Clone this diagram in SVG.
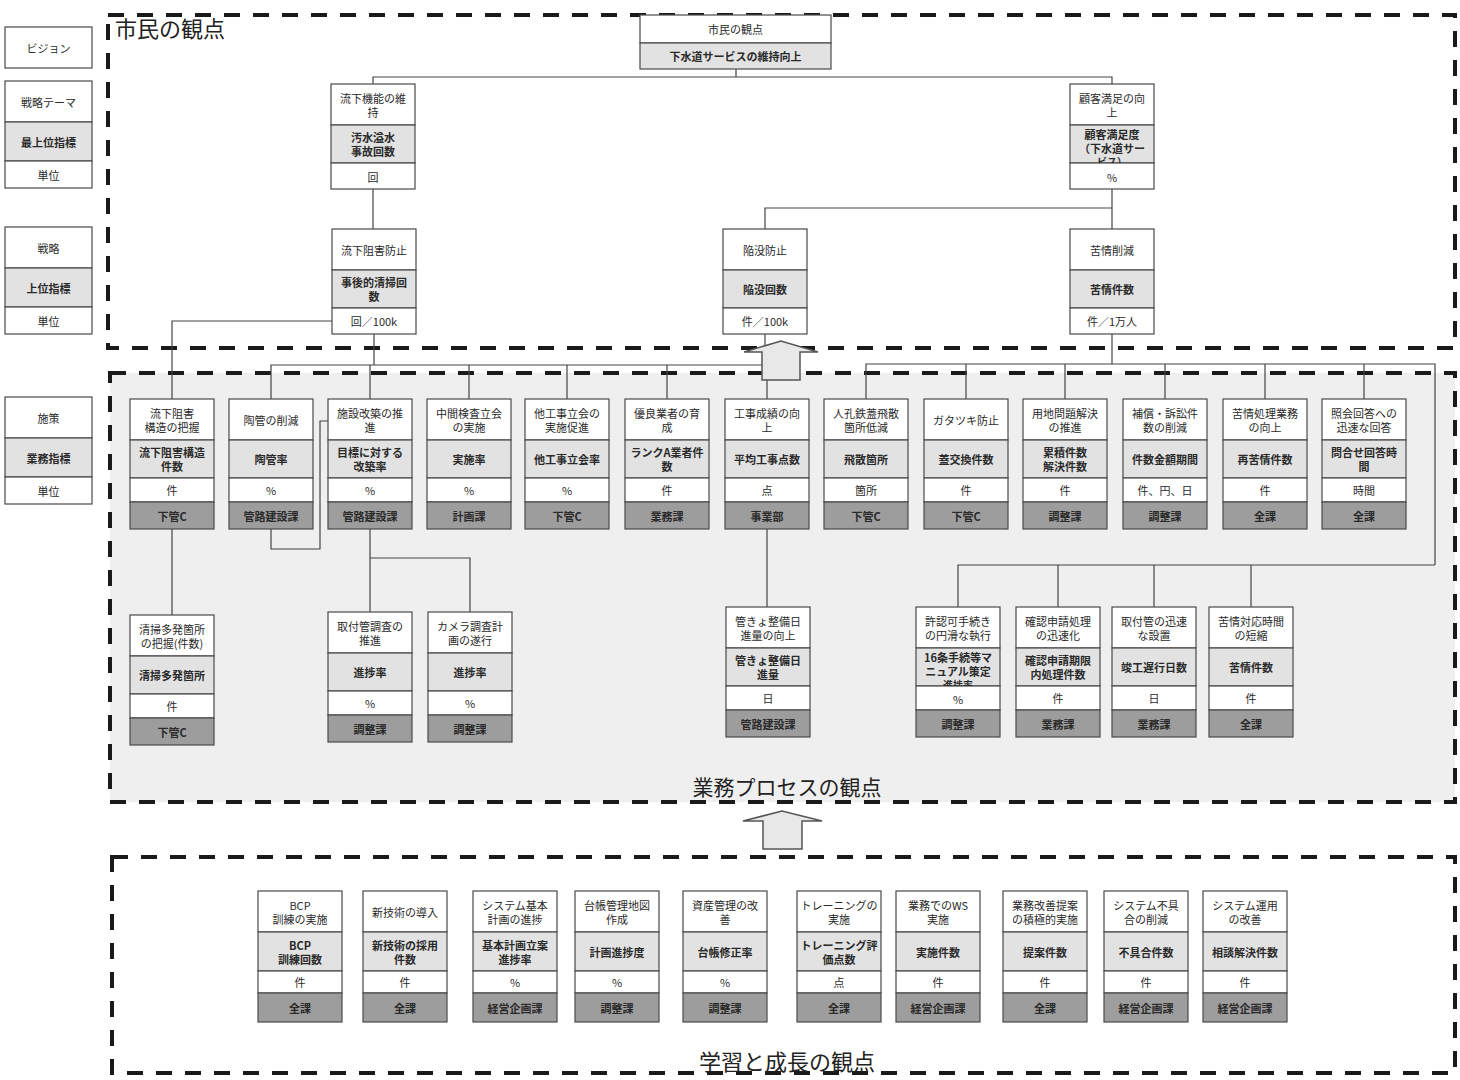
<svg xmlns="http://www.w3.org/2000/svg" width="1460" height="1080" viewBox="0 0 1460 1080">
<style>
text{font-family:'Noto Sans CJK JP','Noto Sans CJK SC',sans-serif;font-size:11px;fill:#2a2a2a;text-anchor:middle;dominant-baseline:central}
.b{font-weight:700}
.cut{font-size:10px}
.w{fill:#fff;stroke:#4a4a4a;stroke-width:1.2}
.g{fill:#e2e2e2;stroke:#4a4a4a;stroke-width:1.2}
.d{fill:#9d9d9d;stroke:#4a4a4a;stroke-width:1.2}
.dash{fill:none;stroke:#1a1a1a;stroke-width:4;stroke-dasharray:16 13}
.cn path{fill:none;stroke:#444;stroke-width:1.2}
.arr{fill:#e8e8e8;stroke:#555;stroke-width:1.5}
.lbl{font-size:21px;fill:#222}
</style>
<defs>
<g id="tA"><rect class="w" width="84" height="41"/><rect class="g" y="41" width="84" height="38"/><rect class="w" y="79" width="84" height="24"/><rect class="d" y="103" width="84" height="27"/></g>
<g id="tB"><rect class="w" width="84" height="41"/><rect class="g" y="41" width="84" height="39"/><rect class="w" y="80" width="84" height="22"/><rect class="d" y="102" width="84" height="29"/></g>
<g id="tC"><rect class="w" width="84" height="41"/><rect class="g" y="41" width="84" height="38"/><rect class="w" y="79" width="84" height="26"/></g>
<g id="tL"><rect class="w" width="87" height="41"/><rect class="g" y="41" width="87" height="39"/><rect class="w" y="80" width="87" height="27"/></g>
<clipPath id="clipInd"><rect y="41" width="84" height="38"/></clipPath>
</defs>

<!-- regions -->
<g id="regions">
<rect x="110" y="373" width="1345" height="429" fill="#efefef"/>
<rect class="dash" x="108" y="15" width="1347" height="333"/>
<rect class="dash" x="110" y="373" width="1345" height="429"/>
<rect class="dash" x="112" y="857" width="1343" height="216"/>
</g>

<!-- legend -->
<g id="legend-vision"><rect class="w" x="5" y="27" width="87" height="41"/><text x="48.5" y="47.5">ビジョン</text></g>
<g id="legend-theme" transform="translate(5,81)"><use href="#tL"/><text x="43.5" y="20.5">戦略テーマ</text><text class="b" x="43.5" y="60.5">最上位指標</text><text x="43.5" y="93.5">単位</text></g>
<g id="legend-strategy" transform="translate(5,227)"><use href="#tL"/><text x="43.5" y="20.5">戦略</text><text class="b" x="43.5" y="60.5">上位指標</text><text x="43.5" y="93.5">単位</text></g>
<g id="legend-measure" transform="translate(5,397)"><use href="#tL"/><text x="43.5" y="20.5">施策</text><text class="b" x="43.5" y="60.5">業務指標</text><text x="43.5" y="93.5">単位</text></g>

<!-- connectors -->
<g id="connectors" class="cn">
<path d="M736,69V77M373,84V77H1112V84"/>
<path d="M373,189V229"/>
<path d="M1112,189V229M765,229V208H1112"/>
<path d="M332,321H172V399"/>
<path d="M374,334V365M271,399V365H767V399M370,365V399M469,365V399M567,365V399M667,365V399"/>
<path d="M765,334V365"/>
<path d="M1112,334V364M866,399V364H1435V565M966,364V399M1065,364V399M1165,364V399M1265,364V399M1364,364V399"/>
<path d="M958,607V565H1435M1058,565V607M1154,565V607M1251,565V607"/>
<path d="M271,529V549H320V421H328"/>
<path d="M172,529V615"/>
<path d="M370,529V612M370,558H470V612"/>
<path d="M767,529V607"/>
</g>

<!-- top node -->
<g id="vision" transform="translate(640,15)">
<rect class="w" width="191" height="28"/><rect class="g" y="28" width="191" height="26"/>
<text x="95.5" y="14">市民の観点</text><text class="b" x="95.5" y="41">下水道サービスの維持向上</text>
</g>

<!-- strategic themes -->
<g id="theme-1" transform="translate(331,84)"><use href="#tC"/><text x="42" y="13.5">流下機能の維</text><text x="42" y="27.5">持</text><text class="b" x="42" y="53">汚水溢水</text><text class="b" x="42" y="67">事故回数</text><text x="42" y="93">回</text></g>
<g id="theme-2" transform="translate(1070,84)"><use href="#tC"/><text x="42" y="13.5">顧客満足の向</text><text x="42" y="27.5">上</text><g clip-path="url(#clipInd)"><text class="b" x="42" y="49.5">顧客満足度</text><text class="b" x="42" y="63.5">（下水道サー</text><text class="b cut" x="42" y="77">ビス）</text></g><text x="42" y="93">%</text></g>

<!-- strategies -->
<g id="strategy-1" transform="translate(332,229)"><use href="#tC"/><text x="42" y="20.5">流下阻害防止</text><text class="b" x="42" y="53">事後的清掃回</text><text class="b" x="42" y="67">数</text><text x="42" y="92">回／100k</text></g>
<g id="strategy-2" transform="translate(723,229)"><use href="#tC"/><text x="42" y="20.5">陥没防止</text><text class="b" x="42" y="60">陥没回数</text><text x="42" y="92">件／100k</text></g>
<g id="strategy-3" transform="translate(1070,229)"><use href="#tC"/><text x="42" y="20.5">苦情削減</text><text class="b" x="42" y="60">苦情件数</text><text x="42" y="92">件／1万人</text></g>

<!-- measures -->
<g id="m1" transform="translate(130,399)"><use href="#tA"/><text x="42" y="13.5">流下阻害</text><text x="42" y="27.5">構造の把握</text><text class="b" x="42" y="53">流下阻害構造</text><text class="b" x="42" y="67">件数</text><text x="42" y="91">件</text><text class="b" x="42" y="116.5">下管C</text></g>
<g id="m2" transform="translate(229,399)"><use href="#tA"/><text x="42" y="20.5">陶管の削減</text><text class="b" x="42" y="60">陶管率</text><text x="42" y="91">%</text><text class="b" x="42" y="116.5">管路建設課</text></g>
<g id="m3" transform="translate(328,399)"><use href="#tA"/><text x="42" y="13.5">施設改築の推</text><text x="42" y="27.5">進</text><text class="b" x="42" y="53">目標に対する</text><text class="b" x="42" y="67">改築率</text><text x="42" y="91">%</text><text class="b" x="42" y="116.5">管路建設課</text></g>
<g id="m4" transform="translate(427,399)"><use href="#tA"/><text x="42" y="13.5">中間検査立会</text><text x="42" y="27.5">の実施</text><text class="b" x="42" y="60">実施率</text><text x="42" y="91">%</text><text class="b" x="42" y="116.5">計画課</text></g>
<g id="m5" transform="translate(525,399)"><use href="#tA"/><text x="42" y="13.5">他工事立会の</text><text x="42" y="27.5">実施促進</text><text class="b" x="42" y="60">他工事立会率</text><text x="42" y="91">%</text><text class="b" x="42" y="116.5">下管C</text></g>
<g id="m6" transform="translate(625,399)"><use href="#tA"/><text x="42" y="13.5">優良業者の育</text><text x="42" y="27.5">成</text><text class="b" x="42" y="53">ランクA業者件</text><text class="b" x="42" y="67">数</text><text x="42" y="91">件</text><text class="b" x="42" y="116.5">業務課</text></g>
<g id="m7" transform="translate(725,399)"><use href="#tA"/><text x="42" y="13.5">工事成績の向</text><text x="42" y="27.5">上</text><text class="b" x="42" y="60">平均工事点数</text><text x="42" y="91">点</text><text class="b" x="42" y="116.5">事業部</text></g>
<g id="m8" transform="translate(824,399)"><use href="#tA"/><text x="42" y="13.5">人孔鉄蓋飛散</text><text x="42" y="27.5">箇所低減</text><text class="b" x="42" y="60">飛散箇所</text><text x="42" y="91">箇所</text><text class="b" x="42" y="116.5">下管C</text></g>
<g id="m9" transform="translate(924,399)"><use href="#tA"/><text x="42" y="20.5">ガタツキ防止</text><text class="b" x="42" y="60">蓋交換件数</text><text x="42" y="91">件</text><text class="b" x="42" y="116.5">下管C</text></g>
<g id="m10" transform="translate(1023,399)"><use href="#tA"/><text x="42" y="13.5">用地問題解決</text><text x="42" y="27.5">の推進</text><text class="b" x="42" y="53">累積件数</text><text class="b" x="42" y="67">解決件数</text><text x="42" y="91">件</text><text class="b" x="42" y="116.5">調整課</text></g>
<g id="m11" transform="translate(1123,399)"><use href="#tA"/><text x="42" y="13.5">補償・訴訟件</text><text x="42" y="27.5">数の削減</text><text class="b" x="42" y="60">件数金額期間</text><text x="42" y="91">件、円、日</text><text class="b" x="42" y="116.5">調整課</text></g>
<g id="m12" transform="translate(1223,399)"><use href="#tA"/><text x="42" y="13.5">苦情処理業務</text><text x="42" y="27.5">の向上</text><text class="b" x="42" y="60">再苦情件数</text><text x="42" y="91">件</text><text class="b" x="42" y="116.5">全課</text></g>
<g id="m13" transform="translate(1322,399)"><use href="#tA"/><text x="42" y="13.5">照会回答への</text><text x="42" y="27.5">迅速な回答</text><text class="b" x="42" y="53">問合せ回答時</text><text class="b" x="42" y="67">間</text><text x="42" y="91">時間</text><text class="b" x="42" y="116.5">全課</text></g>

<!-- lower measures -->
<g id="l1" transform="translate(130,615)"><use href="#tA"/><text x="42" y="13.5">清掃多発箇所</text><text x="42" y="27.5">の把握(件数)</text><text class="b" x="42" y="60">清掃多発箇所</text><text x="42" y="91">件</text><text class="b" x="42" y="116.5">下管C</text></g>
<g id="l2" transform="translate(328,612)"><use href="#tA"/><text x="42" y="13.5">取付管調査の</text><text x="42" y="27.5">推進</text><text class="b" x="42" y="60">進捗率</text><text x="42" y="91">%</text><text class="b" x="42" y="116.5">調整課</text></g>
<g id="l3" transform="translate(428,612)"><use href="#tA"/><text x="42" y="13.5">カメラ調査計</text><text x="42" y="27.5">画の遂行</text><text class="b" x="42" y="60">進捗率</text><text x="42" y="91">%</text><text class="b" x="42" y="116.5">調整課</text></g>
<g id="l4" transform="translate(726,607)"><use href="#tA"/><text x="42" y="13.5">管きょ整備日</text><text x="42" y="27.5">進量の向上</text><text class="b" x="42" y="53">管きょ整備日</text><text class="b" x="42" y="67">進量</text><text x="42" y="91">日</text><text class="b" x="42" y="116.5">管路建設課</text></g>
<g id="l5" transform="translate(916,607)"><use href="#tA"/><text x="42" y="13.5">許認可手続き</text><text x="42" y="27.5">の円滑な執行</text><g clip-path="url(#clipInd)"><text class="b" x="42" y="49.5">16条手続等マ</text><text class="b" x="42" y="63.5">ニュアル策定</text><text class="b cut" x="42" y="77">進捗率</text></g><text x="42" y="92">%</text><text class="b" x="42" y="116.5">調整課</text></g>
<g id="l6" transform="translate(1016,607)"><use href="#tA"/><text x="42" y="13.5">確認申請処理</text><text x="42" y="27.5">の迅速化</text><text class="b" x="42" y="53">確認申請期限</text><text class="b" x="42" y="67">内処理件数</text><text x="42" y="91">件</text><text class="b" x="42" y="116.5">業務課</text></g>
<g id="l7" transform="translate(1112,607)"><use href="#tA"/><text x="42" y="13.5">取付管の迅速</text><text x="42" y="27.5">な設置</text><text class="b" x="42" y="60">竣工遅行日数</text><text x="42" y="91">日</text><text class="b" x="42" y="116.5">業務課</text></g>
<g id="l8" transform="translate(1209,607)"><use href="#tA"/><text x="42" y="13.5">苦情対応時間</text><text x="42" y="27.5">の短縮</text><text class="b" x="42" y="60">苦情件数</text><text x="42" y="91">件</text><text class="b" x="42" y="116.5">全課</text></g>

<!-- learning & growth -->
<g id="b1" transform="translate(258,891)"><use href="#tB"/><text x="42" y="13.5">BCP</text><text x="42" y="27.5">訓練の実施</text><text class="b" x="42" y="53.5">BCP</text><text class="b" x="42" y="67.5">訓練回数</text><text x="42" y="91">件</text><text class="b" x="42" y="116.5">全課</text></g>
<g id="b2" transform="translate(363,891)"><use href="#tB"/><text x="42" y="20.5">新技術の導入</text><text class="b" x="42" y="53.5">新技術の採用</text><text class="b" x="42" y="67.5">件数</text><text x="42" y="91">件</text><text class="b" x="42" y="116.5">全課</text></g>
<g id="b3" transform="translate(473,891)"><use href="#tB"/><text x="42" y="13.5">システム基本</text><text x="42" y="27.5">計画の進捗</text><text class="b" x="42" y="53.5">基本計画立案</text><text class="b" x="42" y="67.5">進捗率</text><text x="42" y="91">%</text><text class="b" x="42" y="116.5">経営企画課</text></g>
<g id="b4" transform="translate(575,891)"><use href="#tB"/><text x="42" y="13.5">台帳管理地図</text><text x="42" y="27.5">作成</text><text class="b" x="42" y="60.5">計画進捗度</text><text x="42" y="91">%</text><text class="b" x="42" y="116.5">調整課</text></g>
<g id="b5" transform="translate(683,891)"><use href="#tB"/><text x="42" y="13.5">資産管理の改</text><text x="42" y="27.5">善</text><text class="b" x="42" y="60.5">台帳修正率</text><text x="42" y="91">%</text><text class="b" x="42" y="116.5">調整課</text></g>
<g id="b6" transform="translate(797,891)"><use href="#tB"/><text x="42" y="13.5">トレーニングの</text><text x="42" y="27.5">実施</text><text class="b" x="42" y="53.5">トレーニング評</text><text class="b" x="42" y="67.5">価点数</text><text x="42" y="91">点</text><text class="b" x="42" y="116.5">全課</text></g>
<g id="b7" transform="translate(896,891)"><use href="#tB"/><text x="42" y="13.5">業務でのWS</text><text x="42" y="27.5">実施</text><text class="b" x="42" y="60.5">実施件数</text><text x="42" y="91">件</text><text class="b" x="42" y="116.5">経営企画課</text></g>
<g id="b8" transform="translate(1003,891)"><use href="#tB"/><text x="42" y="13.5">業務改善提案</text><text x="42" y="27.5">の積極的実施</text><text class="b" x="42" y="60.5">提案件数</text><text x="42" y="91">件</text><text class="b" x="42" y="116.5">全課</text></g>
<g id="b9" transform="translate(1104,891)"><use href="#tB"/><text x="42" y="13.5">システム不具</text><text x="42" y="27.5">合の削減</text><text class="b" x="42" y="60.5">不具合件数</text><text x="42" y="91">件</text><text class="b" x="42" y="116.5">経営企画課</text></g>
<g id="b10" transform="translate(1203,891)"><use href="#tB"/><text x="42" y="13.5">システム運用</text><text x="42" y="27.5">の改善</text><text class="b" x="42" y="60.5">相談解決件数</text><text x="42" y="91">件</text><text class="b" x="42" y="116.5">経営企画課</text></g>

<!-- block arrows -->
<g id="arrows">
<polygon class="arr" points="762,380 762,352 744,352 781,341 818,352 800,352 800,380"/>
<polygon class="arr" points="763,849 763,821 743,821 782,811 822,821 802,821 802,849"/>
</g>

<!-- perspective labels -->
<g id="labels">
<text class="lbl" x="115" y="27" style="text-anchor:start;font-size:22px">市民の観点</text>
<text class="lbl" x="787" y="786">業務プロセスの観点</text>
<text class="lbl" x="787" y="1060" style="font-size:22px">学習と成長の観点</text>
</g>
</svg>
